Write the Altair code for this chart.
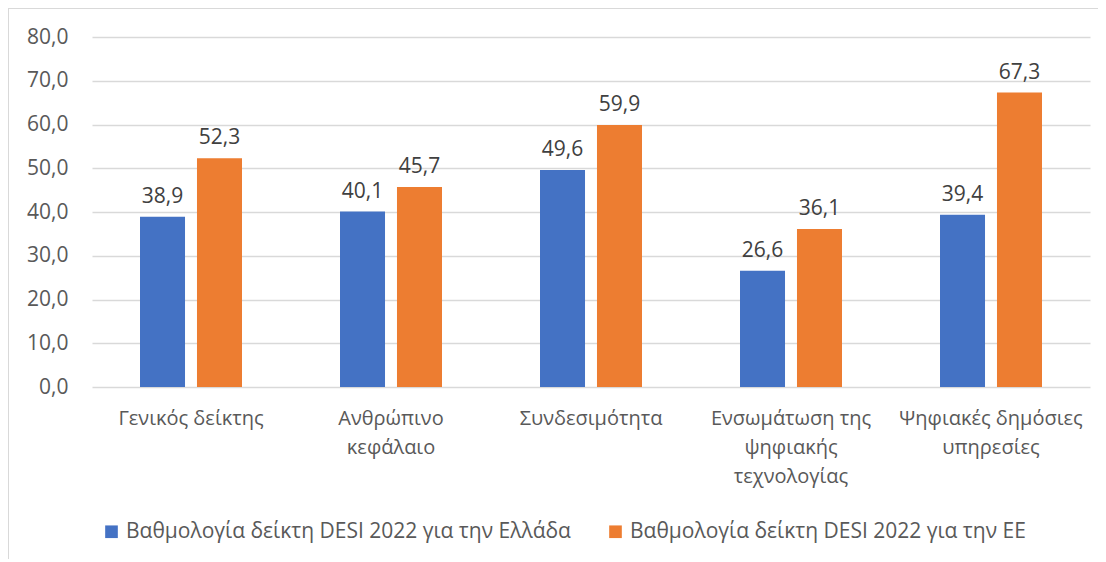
import altair as alt
import pandas as pd

categories = ["Γενικός δείκτης", "Ανθρώπινο|κεφάλαιο", "Συνδεσιμότητα",
              "Ενσωμάτωση της|ψηφιακής|τεχνολογίας", "Ψηφιακές δημόσιες|υπηρεσίες"]
series = ["Βαθμολογία δείκτη DESI 2022 για την Ελλάδα", "Βαθμολογία δείκτη DESI 2022 για την ΕΕ"]
greece = [38.9, 40.1, 49.6, 26.6, 39.4]
eu = [52.3, 45.7, 59.9, 36.1, 67.3]
colors = ["#4472C4", "#ED7D31"]

rows = []
for c, g, e in zip(categories, greece, eu):
    rows.append({"cat": c, "series": series[0], "value": g, "label": f"{g:.1f}".replace(".", ",")})
    rows.append({"cat": c, "series": series[1], "value": e, "label": f"{e:.1f}".replace(".", ",")})
df = pd.DataFrame(rows)

FONT = "Open Sans"
FS_X = 20
FS = 21

base = alt.Chart(df).encode(
    x=alt.X("cat:N", sort=categories, title=None,
            scale=alt.Scale(paddingInner=0.49, paddingOuter=0.24),
            axis=alt.Axis(labelExpr="split(datum.label, '|')", labelAngle=0,
                          labelFont=FONT, labelFontSize=FS_X, labelColor="#595959",
                          labelLineHeight=29, labelPadding=21, ticks=False,
                          domain=False, grid=False, labelLimit=300)),
    xOffset=alt.XOffset("series:N", sort=series,
                        scale=alt.Scale(paddingInner=0.21)),
)

bars = base.mark_bar().encode(
    y=alt.Y("value:Q", title=None,
            scale=alt.Scale(domain=[0, 80]),
            axis=alt.Axis(values=[0, 10, 20, 30, 40, 50, 60, 70, 80],
                          labelExpr="replace(format(datum.value, '.1f'), '.', ',')",
                          labelFont=FONT, labelFontSize=FS, labelColor="#595959",
                          labelPadding=24, ticks=False, domain=False,
                          grid=True, gridColor="#d9d9d9", gridWidth=1.3)),
    color=alt.Color("series:N", sort=series,
                    scale=alt.Scale(domain=series, range=colors),
                    legend=alt.Legend(title=None, orient="none", legendX=9, legendY=484,
                                      direction="horizontal", columns=2,
                                      symbolType="square", symbolSize=160,
                                      symbolStrokeWidth=0, symbolOpacity=1,
                                      labelFont=FONT, labelFontSize=FS,
                                      labelColor="#595959", labelLimit=600,
                                      columnPadding=34, labelOffset=4)),
)

texts = base.mark_text(baseline="bottom", dy=-10, font=FONT, fontSize=FS,
                       color="#404040").encode(
    y=alt.Y("value:Q"),
    text="label:N",
)

border_top = alt.Chart(df).mark_rule(color="#d9d9d9", strokeWidth=1.3).encode(
    x=alt.value(-84), x2=alt.value(1020), y=alt.value(-29))
border_left = alt.Chart(df).mark_rule(color="#d9d9d9", strokeWidth=1.3).encode(
    x=alt.value(-84), y=alt.value(-29), y2=alt.value(545))

chart = alt.layer(bars, texts, border_top, border_left).properties(
    width=998, height=350,
    autosize=alt.AutoSizeParams(type="none"),
    padding={"left": 84, "top": 29, "right": 8, "bottom": 172},
).configure_view(stroke=None)

chart.save("out.html", embed_options={"renderer": "svg", "actions": False})
